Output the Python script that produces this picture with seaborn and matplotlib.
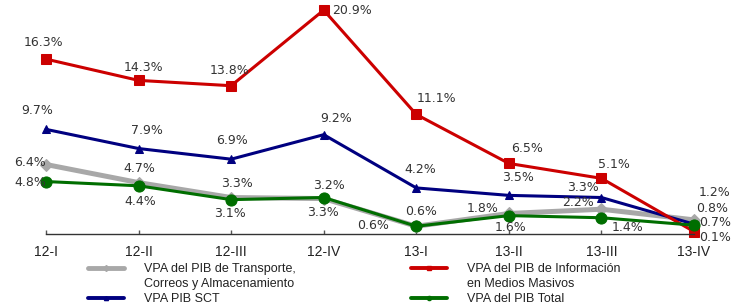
import numpy as np
import pandas as pd
import matplotlib
matplotlib.use("Agg")
import matplotlib.pyplot as plt
from matplotlib.lines import Line2D
import seaborn as sns

# Datos (variación porcentual anual, %)
trimestres = ["12-I", "12-II", "12-III", "12-IV", "13-I", "13-II", "13-III", "13-IV"]
transporte = [6.4, 4.7, 3.3, 3.2, 0.6, 1.8, 2.2, 1.2]
medios = [16.3, 14.3, 13.8, 20.9, 11.1, 6.5, 5.1, 0.1]
sct = [9.7, 7.9, 6.9, 9.2, 4.2, 3.5, 3.3, 0.8]
total = [4.8, 4.4, 3.1, 3.3, 0.6, 1.6, 1.4, 0.7]

# Posición de cada etiqueta respecto a su punto (pixeles)
off_transporte = [(-16, 2), (1, 14), (6, 14), (5, 13), (-43, 1), (-26, 5), (-23, 7), (21, 27)]
off_medios = [(-3, 17), (5, 13), (-2, 15), (28, 0), (20, 16), (18, 15), (13, 14), (21, -6)]
off_sct = [(-9, 19), (8, 18), (1, 19), (12, 16), (4, 18), (9, 18), (-18, 10), (18, 16)]
off_total = [(-16, -1), (2, -16), (-1, -14), (-1, -15), (5, 15), (2, -12), (26, -10), (21, 3)]

sns.set_style("white")
plt.rcParams["font.family"] = ["DejaVu Sans"]
narrow = ["Liberation Sans Narrow", "Liberation Sans", "DejaVu Sans"]

x = np.arange(len(trimestres))
df = pd.DataFrame({"x": x, "transporte": transporte, "medios": medios,
                   "sct": sct, "total": total})

fig = plt.figure(figsize=(7.38, 3.07), dpi=100)
ax = fig.add_axes([46 / 738, 1 - 233.5 / 307, (694 - 46) / 738, 233.5 / 307])

series = [
    ("transporte", "#A8A8A8", "D", 6.5, 3.6, off_transporte),
    ("sct", "#000080", "^", 6, 2.2, off_sct),
    ("medios", "#CC0000", "s", 7, 2.2, off_medios),
    ("total", "#006E00", "o", 8, 2.2, off_total),
]
for col, color, marker, ms, lw, offs in series:
    sns.lineplot(data=df, x="x", y=col, ax=ax, color=color, marker=marker,
                 markersize=ms, linewidth=lw, markeredgecolor=color, clip_on=False)
    for xi, yi, (dx, dy) in zip(x, df[col], offs):
        ax.annotate(f"{yi:.1f}%", (xi, yi), xytext=(dx, dy),
                    textcoords="offset pixels", ha="center", va="center",
                    fontsize=9, color="#333333", annotation_clip=False)

ax.set_xlim(0, 7)
ax.set_ylim(-0.08, 21.85)
ax.set_xticks(x)
ax.set_xticklabels(trimestres, fontfamily=narrow, fontsize=10, color="#222222")
ax.set_yticks([])
ax.set_xlabel("")
ax.set_ylabel("")
for s in ["top", "left", "right"]:
    ax.spines[s].set_visible(False)
ax.spines["bottom"].set_color("#333333")
ax.spines["bottom"].set_linewidth(1)
ax.tick_params(axis="x", direction="in", length=3, width=1, color="#555555", pad=8,
               bottom=True)

# Leyenda en dos columnas (con renglón de continuación)
def handle(color, marker, lw):
    return Line2D([], [], color=color, marker=marker, markersize=3, linewidth=lw)

blank = Line2D([], [], color="none")
handles = [handle("#A8A8A8", "D", 3.5), blank, handle("#000080", "^", 2.8),
           handle("#CC0000", "s", 2.8), blank, handle("#006E00", "o", 2.8)]
labels = ["VPA del PIB de Transporte,", "Correos y Almacenamiento", "VPA PIB SCT",
          "VPA del PIB de Información", "en Medios Masivos", "VPA del PIB Total"]
fig.legend(handles, labels, ncol=2, loc="upper left",
           bbox_to_anchor=(88 / 738, 1 - 263 / 307), frameon=False,
           prop={"family": narrow, "size": 9}, handlelength=2.9,
           handletextpad=1.6, columnspacing=9.2, labelspacing=0.25,
           borderaxespad=0, borderpad=0, labelcolor="#222222")

fig.savefig("out.png", dpi=100)
